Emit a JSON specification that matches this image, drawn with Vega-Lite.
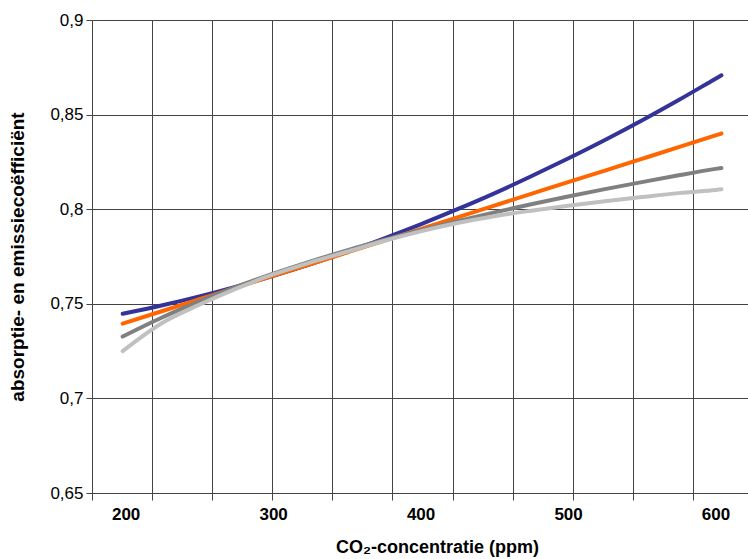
{
  "$schema": "https://vega.github.io/schema/vega-lite/v6.json",
  "width": 656,
  "height": 473,
  "autosize": "none",
  "padding": {"left": 92, "top": 20, "right": 0, "bottom": 66},
  "background": "white",
  "config": {
    "font": "Liberation Sans",
    "view": {"stroke": null},
    "axis": {"labelColor": "black", "titleColor": "black"}
  },
  "data": {
    "values": [
      {"ppm": 198, "v": 0.7447, "s": "a"},
      {"ppm": 225, "v": 0.7492, "s": "a"},
      {"ppm": 250, "v": 0.7539, "s": "a"},
      {"ppm": 275, "v": 0.7591, "s": "a"},
      {"ppm": 300, "v": 0.7648, "s": "a"},
      {"ppm": 325, "v": 0.7709, "s": "a"},
      {"ppm": 350, "v": 0.7774, "s": "a"},
      {"ppm": 375, "v": 0.7845, "s": "a"},
      {"ppm": 400, "v": 0.7920, "s": "a"},
      {"ppm": 425, "v": 0.8000, "s": "a"},
      {"ppm": 450, "v": 0.8084, "s": "a"},
      {"ppm": 475, "v": 0.8174, "s": "a"},
      {"ppm": 500, "v": 0.8268, "s": "a"},
      {"ppm": 525, "v": 0.8366, "s": "a"},
      {"ppm": 550, "v": 0.8469, "s": "a"},
      {"ppm": 575, "v": 0.8577, "s": "a"},
      {"ppm": 600, "v": 0.8690, "s": "a"},
      {"ppm": 604, "v": 0.8708, "s": "a"},
      {"ppm": 198, "v": 0.7395, "s": "b"},
      {"ppm": 225, "v": 0.7462, "s": "b"},
      {"ppm": 250, "v": 0.7524, "s": "b"},
      {"ppm": 275, "v": 0.7586, "s": "b"},
      {"ppm": 300, "v": 0.7648, "s": "b"},
      {"ppm": 325, "v": 0.7709, "s": "b"},
      {"ppm": 350, "v": 0.7771, "s": "b"},
      {"ppm": 375, "v": 0.7833, "s": "b"},
      {"ppm": 400, "v": 0.7895, "s": "b"},
      {"ppm": 425, "v": 0.7957, "s": "b"},
      {"ppm": 450, "v": 0.8019, "s": "b"},
      {"ppm": 475, "v": 0.8081, "s": "b"},
      {"ppm": 500, "v": 0.8143, "s": "b"},
      {"ppm": 525, "v": 0.8204, "s": "b"},
      {"ppm": 550, "v": 0.8266, "s": "b"},
      {"ppm": 575, "v": 0.8328, "s": "b"},
      {"ppm": 600, "v": 0.8390, "s": "b"},
      {"ppm": 604, "v": 0.8400, "s": "b"},
      {"ppm": 198, "v": 0.7327, "s": "c"},
      {"ppm": 225, "v": 0.7429, "s": "c"},
      {"ppm": 250, "v": 0.7513, "s": "c"},
      {"ppm": 275, "v": 0.7589, "s": "c"},
      {"ppm": 300, "v": 0.7659, "s": "c"},
      {"ppm": 325, "v": 0.7723, "s": "c"},
      {"ppm": 350, "v": 0.7782, "s": "c"},
      {"ppm": 375, "v": 0.7837, "s": "c"},
      {"ppm": 400, "v": 0.7889, "s": "c"},
      {"ppm": 425, "v": 0.7937, "s": "c"},
      {"ppm": 450, "v": 0.7983, "s": "c"},
      {"ppm": 475, "v": 0.8026, "s": "c"},
      {"ppm": 500, "v": 0.8067, "s": "c"},
      {"ppm": 525, "v": 0.8106, "s": "c"},
      {"ppm": 550, "v": 0.8143, "s": "c"},
      {"ppm": 575, "v": 0.8179, "s": "c"},
      {"ppm": 600, "v": 0.8213, "s": "c"},
      {"ppm": 604, "v": 0.8218, "s": "c"},
      {"ppm": 198, "v": 0.7250, "s": "d"},
      {"ppm": 225, "v": 0.7400, "s": "d"},
      {"ppm": 250, "v": 0.7495, "s": "d"},
      {"ppm": 275, "v": 0.7580, "s": "d"},
      {"ppm": 300, "v": 0.7655, "s": "d"},
      {"ppm": 325, "v": 0.7718, "s": "d"},
      {"ppm": 350, "v": 0.7775, "s": "d"},
      {"ppm": 375, "v": 0.7832, "s": "d"},
      {"ppm": 400, "v": 0.7883, "s": "d"},
      {"ppm": 425, "v": 0.7927, "s": "d"},
      {"ppm": 450, "v": 0.7963, "s": "d"},
      {"ppm": 475, "v": 0.7992, "s": "d"},
      {"ppm": 500, "v": 0.8018, "s": "d"},
      {"ppm": 525, "v": 0.8042, "s": "d"},
      {"ppm": 550, "v": 0.8064, "s": "d"},
      {"ppm": 575, "v": 0.8085, "s": "d"},
      {"ppm": 600, "v": 0.8102, "s": "d"},
      {"ppm": 604, "v": 0.8105, "s": "d"}
    ]
  },
  "mark": {"type": "line", "strokeWidth": 4, "strokeCap": "round", "strokeJoin": "round", "interpolate": "monotone"},
  "encoding": {
    "x": {
      "field": "ppm",
      "type": "quantitative",
      "scale": {"domain": [177.2, 622], "nice": false, "zero": false},
      "axis": {
        "title": "CO₂-concentratie (ppm)",
        "titleFontSize": 18,
        "titleFontWeight": "bold",
        "titlePadding": 16,
        "titleX": 345,
        "values": [177.2, 200, 217.95, 258.7, 299.45, 300, 340.2, 380.95, 400, 421.7, 462.45, 500, 503.2, 543.95, 584.7, 600],
        "labelExpr": "indexof([200,300,400,500,600], datum.value) >= 0 ? datum.value : ''",
        "labelOverlap": false,
        "labelFontSize": 17,
        "labelFontWeight": "bold",
        "labelPadding": 6,
        "labelBound": false,
        "labelFlush": false,
        "grid": true,
        "gridColor": "#444444",
        "gridOpacity": {"condition": {"test": "indexof([200,300,400,500,600], datum.value) >= 0", "value": 0}, "value": 1},
        "tickOpacity": {"condition": {"test": "indexof([200,300,400,500,600], datum.value) >= 0", "value": 0}, "value": 1},
        "tickColor": "#444444",
        "tickSize": 7,
        "domainColor": "#444444"
      }
    },
    "y": {
      "field": "v",
      "type": "quantitative",
      "scale": {"domain": [0.65, 0.9], "nice": false, "zero": false},
      "axis": {
        "title": "absorptie- en emissiecoëfficiënt",
        "titleFontSize": 19,
        "titleFontWeight": "bold",
        "titlePadding": 22,
        "values": [0.65, 0.7, 0.75, 0.8, 0.85, 0.9],
        "labelExpr": "replace(toString(datum.value), '.', ',')",
        "labelFontSize": 17,
        "labelFontWeight": "normal",
        "labelPadding": 3,
        "grid": true,
        "gridColor": "#444444",
        "tickColor": "#444444",
        "tickSize": 6,
        "domainColor": "#444444"
      }
    },
    "color": {
      "field": "s",
      "type": "nominal",
      "legend": null,
      "scale": {"domain": ["a", "b", "c", "d"], "range": ["#333399", "#FF6600", "#808080", "#C0C0C0"]}
    }
  }
}
